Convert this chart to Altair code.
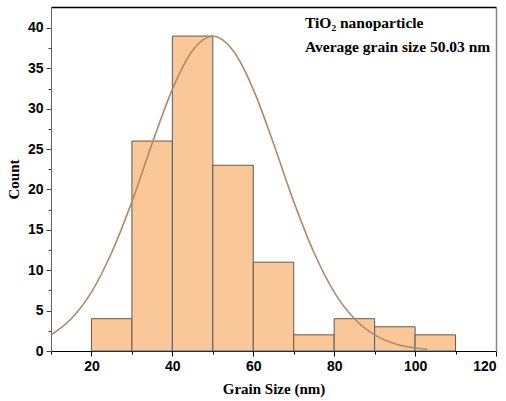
import altair as alt
import pandas as pd

bin_start = [20, 30, 40, 50, 60, 70, 80, 90, 100]
bin_end = [30, 40, 50, 60, 70, 80, 90, 100, 110]
counts = [4, 26, 39, 23, 11, 2, 4, 3, 2]

curve_x = [10, 15, 20, 25, 30, 35, 40, 45, 50, 55, 60, 65, 70, 75, 80, 85, 90, 95, 100, 103]
curve_y = [2.0, 4.0, 7.3, 12.2, 18.5, 25.7, 32.4, 37.2, 39.0, 37.2, 32.4, 25.7, 18.5, 12.2, 7.3, 4.0, 2.0, 0.9, 0.37, 0.21]

x_major = [20, 40, 60, 80, 100, 120]
x_minor = [10, 30, 50, 70, 90, 110]
y_major = [0, 5, 10, 15, 20, 25, 30, 35, 40]
y_minor = [2.5, 7.5, 12.5, 17.5, 22.5, 27.5, 32.5, 37.5]

bars_df = pd.DataFrame({"start": bin_start, "end": bin_end, "count": counts})
curve_df = pd.DataFrame({"x": curve_x, "y": curve_y})

xs = alt.Scale(domain=[10, 120], nice=False, zero=False)
ys = alt.Scale(domain=[0, 42.6], nice=False, zero=True)

label_font = "Liberation Sans"
serif = "Liberation Serif"

bars = alt.Chart(bars_df).mark_bar(
    fill="#FAC898", stroke="#5a5a5a", strokeWidth=1, opacity=1
).encode(
    x=alt.X("start:Q", scale=xs, axis=alt.Axis(
        values=x_major, orient="bottom", title="Grain Size (nm)", grid=False,
        tickSize=5, tickColor="black", domainColor="black", labelFont=label_font,
        labelFontWeight="bold", labelFontSize=14, labelColor="black",
        titleFont=serif, titleFontWeight="bold", titleFontSize=15, titleColor="black",
        titlePadding=8, labelPadding=3)),
    x2="end:Q",
    y=alt.Y("count:Q", scale=ys, axis=alt.Axis(
        values=y_major, orient="left", title="Count", grid=False,
        tickSize=5, tickColor="#444", domainColor="#666", labelFont=label_font,
        labelFontWeight="bold", labelFontSize=14, labelColor="black",
        titleFont=serif, titleFontWeight="bold", titleFontSize=15, titleColor="black",
        titlePadding=6, labelPadding=3)),
    y2=alt.datum(0),
)

curve = alt.Chart(curve_df).mark_line(
    color="#AF8A66", strokeWidth=1.6, interpolate="monotone"
).encode(
    x=alt.X("x:Q", scale=xs, axis=alt.Axis(
        values=x_minor, orient="bottom", title=None, labels=False, domain=False,
        grid=False, tickSize=3, tickColor="black")),
    y=alt.Y("y:Q", scale=ys, axis=alt.Axis(
        values=y_minor, orient="left", title=None, labels=False, domain=False,
        grid=False, tickSize=3, tickColor="#444")),
)

frame = alt.Chart(curve_df).mark_point(opacity=0).encode(
    x=alt.X("x:Q", scale=xs, axis=alt.Axis(
        orient="top", title=None, labels=False, ticks=False, grid=False,
        domainColor="black", domainWidth=1.5)),
    y=alt.Y("y:Q", scale=ys, axis=alt.Axis(
        orient="right", title=None, labels=False, ticks=False, grid=False,
        domainColor="#888", domainWidth=1.5)),
)

ann_df = pd.DataFrame({"t": ["TiO\u2082 nanoparticle", "Average grain size 50.03 nm"],
                       "px": [254, 254], "py": [16, 40]})
ann = alt.Chart(ann_df).mark_text(
    align="left", baseline="middle", font=serif, fontWeight="bold", fontSize=15.5, color="black"
).encode(
    text="t:N",
    x=alt.X("px:Q", scale=None),
    y=alt.Y("py:Q", scale=None),
)

chart = alt.layer(bars, curve, frame, ann).resolve_scale(
    x="shared", y="shared"
).resolve_axis(x="independent", y="independent").properties(
    width=445, height=344,
    autosize=alt.AutoSizeParams(type="none"),
    padding={"left": 51, "top": 7, "right": 10, "bottom": 50},
).configure_view(stroke=None)

chart.save("out.html", embed_options={"renderer": "svg", "actions": False})
